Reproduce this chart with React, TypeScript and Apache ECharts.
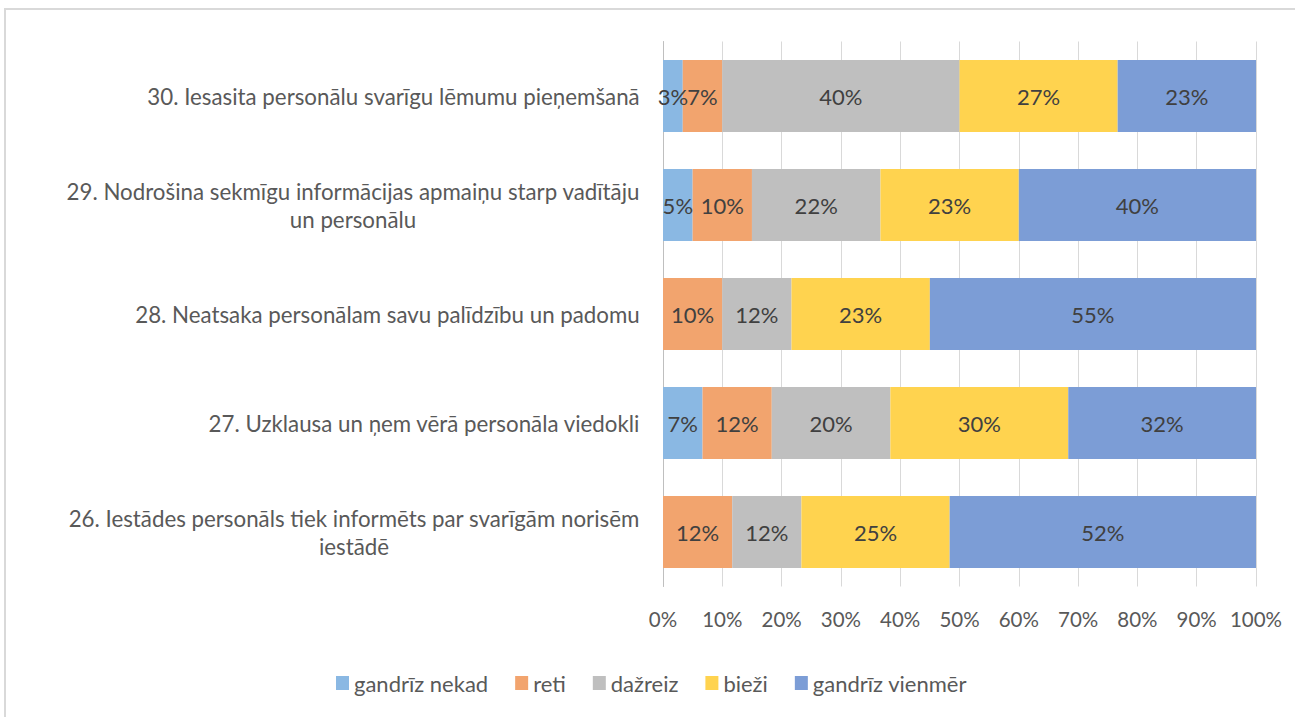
import React, { useEffect, useRef } from "react";
import * as echarts from "echarts";

const categories = [
  "26. Iestādes personāls tiek informēts par svarīgām norisēm\niestādē",
  "27. Uzklausa un ņem vērā personāla viedokli",
  "28. Neatsaka personālam savu palīdzību un padomu",
  "29. Nodrošina sekmīgu informācijas apmaiņu starp vadītāju\nun personālu",
  "30. Iesasita personālu svarīgu lēmumu pieņemšanā",
];
const seriesNames = ["gandrīz nekad", "reti", "dažreiz", "bieži", "gandrīz vienmēr"];
const nekad = [0, 6.67, 0, 5, 3.33];
const reti = [11.67, 11.67, 10, 10, 6.67];
const dazreiz = [11.67, 20, 11.67, 21.67, 40];
const biezi = [25, 30, 23.33, 23.33, 26.67];
const vienmer = [51.67, 31.67, 55, 40, 23.33];
const xTicks = [0, 10, 20, 30, 40, 50, 60, 70, 80, 90, 100];
const colors = ["#8AB8E3", "#F2A46E", "#BFBFBF", "#FFD34F", "#7C9DD6"];

const FONT = "Lato, 'Noto Sans', sans-serif";
const LABEL_SIZE = 22.3;
const TEXT_SIZE = 22;
const TICK_SIZE = 20.5;

function measure(text: string): number {
  const c = document.createElement("canvas");
  const ctx = c.getContext("2d")!;
  ctx.font = `${LABEL_SIZE}px ${FONT}`;
  return ctx.measureText(text).width;
}

export default function App() {
  const ref = useRef<HTMLDivElement>(null);
  useEffect(() => {
    document.body.style.margin = "0";
    const chart = echarts.init(ref.current!, null, { renderer: "svg" });
    const allSeries = [nekad, reti, dazreiz, biezi, vienmer];
    const rich: Record<string, any> = {};
    categories.forEach((c, i) => {
      const w = Math.max(...c.split("\n").map(measure));
      rich["c" + i] = {
        width: Math.ceil(w) + 2,
        align: "center",
        fontSize: LABEL_SIZE,
        fontFamily: FONT,
        color: "#595959",
        lineHeight: 28,
      };
    });
    chart.setOption({
      animation: false,
      textStyle: { fontFamily: FONT },
      color: colors,
      graphic: [
        {
          type: "rect",
          shape: { x: 5, y: 9, width: 1400, height: 800 },
          style: { fill: "none", stroke: "#D9D9D9", lineWidth: 2 },
          silent: true,
        },
      ],
      grid: { left: 663, right: 39, top: 41.5, bottom: 130.5, containLabel: false },
      legend: {
        bottom: 18,
        left: 331,
        itemWidth: 13,
        itemHeight: 14,
        itemGap: 27,
        icon: "rect",
        textStyle: { fontSize: TEXT_SIZE, color: "#595959", fontFamily: FONT },
        data: seriesNames,
      },
      xAxis: {
        type: "value",
        min: 0,
        max: 100,
        interval: 10,
        axisLine: { show: false },
        axisTick: { show: false },
        splitLine: { show: true, lineStyle: { color: "#D9D9D9", width: 1 } },
        axisLabel: {
          margin: 22,
          fontSize: TICK_SIZE,
          color: "#595959",
          fontFamily: FONT,
          formatter: (v: number) => (xTicks.includes(v) ? v + "%" : ""),
        },
      },
      yAxis: {
        type: "category",
        data: categories,
        axisLine: { show: true, lineStyle: { color: "#BFBFBF", width: 1 } },
        axisTick: { show: false },
        axisLabel: {
          margin: 22,
          formatter: (v: string) => {
            const i = categories.indexOf(v);
            return v
              .split("\n")
              .map((l) => `{c${i}|${l}}`)
              .join("\n");
          },
          rich,
        },
      },
      series: allSeries.map((d, si) => ({
        name: seriesNames[si],
        type: "bar",
        stack: "total",
        barCategoryGap: "34%",
        data: d,
        itemStyle: { color: colors[si] },
        label: {
          show: true,
          position: "inside",
          fontSize: TEXT_SIZE,
          color: "#404040",
          fontFamily: FONT,
          formatter: (p: any) => (p.value > 0 ? Math.round(p.value) + "%" : ""),
        },
      })),
    });
    return () => chart.dispose();
  }, []);
  return <div ref={ref} style={{ width: 1295, height: 717 }} />;
}
